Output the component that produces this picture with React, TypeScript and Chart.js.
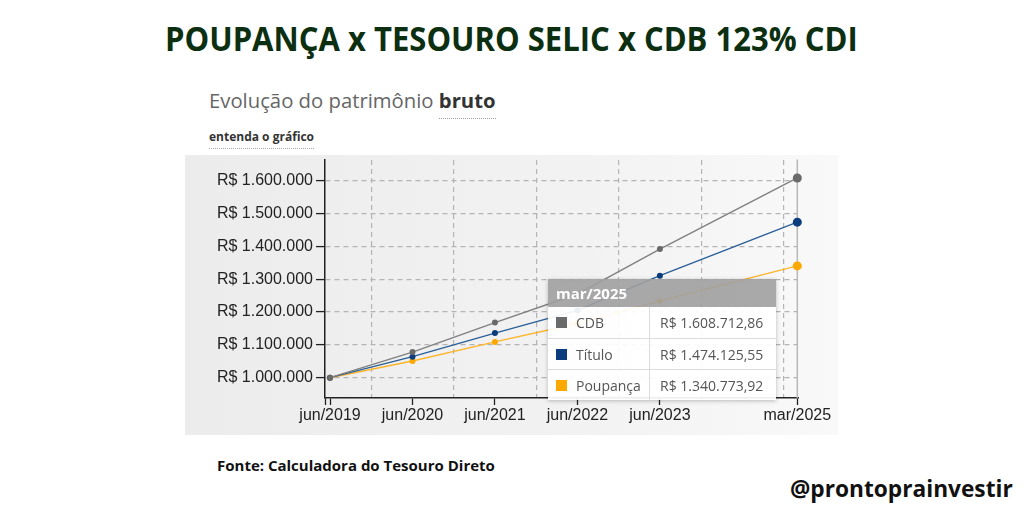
import React, { useEffect, useLayoutEffect, useRef } from "react";
import { Chart, registerables } from "chart.js";

Chart.register(...registerables);

// ---- data ----
const categories = ["jun/2019", "jun/2020", "jun/2021", "jun/2022", "jun/2023", "mar/2025"];
const monthOffsets = [0, 12, 24, 36, 48, 68];
const gridMonths = [6, 18, 30, 42, 54, 66];
const cdbValues = [1000000, 1078000, 1168000, 1255000, 1392000, 1608712.86];
const tituloValues = [1000000, 1064000, 1136000, 1205000, 1311000, 1474125.55];
const poupancaValues = [1000000, 1051000, 1109000, 1165000, 1234000, 1340773.92];
const yTickValues = [1000000, 1100000, 1200000, 1300000, 1400000, 1500000, 1600000];
const seriesNames = ["CDB", "Título", "Poupança"];
const seriesColors = ["#6a6a6a", "#0b3d7d", "#fba800"];
const lineColors = ["#808080", "#2a5f98", "#fdb52a"];

function fmtInt(v: number): string {
  const s = Math.round(v).toString();
  return s.replace(/\B(?=(\d{3})+(?!\d))/g, ".");
}
function fmtMoney(v: number): string {
  const whole = Math.floor(v);
  const cents = Math.round((v - whole) * 100);
  return "R$ " + fmtInt(whole) + "," + String(cents).padStart(2, "0");
}

function FitText(props: { text: string; left: number; top: number; width: number; style: React.CSSProperties }) {
  const ref = useRef<HTMLSpanElement>(null);
  useLayoutEffect(() => {
    const el = ref.current;
    if (!el) return;
    const w = el.offsetWidth;
    if (w > 0) el.style.transform = `scaleX(${props.width / w})`;
  });
  return (
    <span
      ref={ref}
      style={{
        position: "absolute",
        left: props.left,
        top: props.top,
        whiteSpace: "nowrap",
        transformOrigin: "0 0",
        display: "inline-block",
        lineHeight: 1,
        ...props.style,
      }}
    >
      {props.text}
    </span>
  );
}

export default function App() {
  const canvasRef = useRef<HTMLCanvasElement>(null);

  useEffect(() => {
    const canvas = canvasRef.current;
    if (!canvas) return;
    const allSeries = [cdbValues, tituloValues, poupancaValues];
    const lastIdx = monthOffsets.length - 1;
    const hoverLine = {
      id: "hoverLine",
      beforeDatasetsDraw(chart: any) {
        const { ctx, chartArea, scales } = chart;
        const x = scales.x.getPixelForValue(monthOffsets[lastIdx]);
        ctx.save();
        ctx.strokeStyle = "#b8b8b8";
        ctx.lineWidth = 1.5;
        ctx.beginPath();
        ctx.moveTo(x, chartArea.top);
        ctx.lineTo(x, chartArea.bottom);
        ctx.stroke();
        ctx.restore();
      },
    };
    const zeroPad = (axis: any) => {
      axis.paddingTop = 0;
      axis.paddingBottom = 0;
      axis.paddingLeft = 0;
      axis.paddingRight = 0;
    };
    const chart = new Chart(canvas, {
      type: "line",
      data: {
        datasets: allSeries.map((vals, i) => ({
          label: seriesNames[i],
          data: vals.map((v, j) => ({ x: monthOffsets[j], y: v })),
          borderColor: lineColors[i],
          backgroundColor: seriesColors[i],
          pointBackgroundColor: seriesColors[i],
          pointBorderColor: seriesColors[i],
          pointRadius: vals.map((_, j) => (j === lastIdx ? 4.5 : 3)),
          pointBorderWidth: 0,
          borderWidth: 1.4,
          tension: 0,
          clip: false as any,
        })),
      },
      options: {
        animation: false,
        responsive: false,
        maintainAspectRatio: false,
        events: [],
        layout: { padding: { left: 0, right: 40, top: 0, bottom: 0 } },
        plugins: { legend: { display: false }, tooltip: { enabled: false } },
        scales: {
          x: {
            type: "linear",
            position: "bottom",
            min: -0.73,
            max: 68.1,
            afterBuildTicks: (axis: any) => {
              axis.ticks = [{ value: -0.73 }].concat(monthOffsets.map((m) => ({ value: m })));
            },
            afterFit: (axis: any) => {
              axis.height = 38;
              zeroPad(axis);
            },
            ticks: {
              autoSkip: false,
              maxRotation: 0,
              padding: 1,
              color: "#222",
              font: { family: "Liberation Sans", size: 16 },
              callback: (value: any) => {
                const idx = monthOffsets.indexOf(Number(value));
                return idx >= 0 ? categories[idx] : "";
              },
            },
            grid: {
              drawOnChartArea: false,
              drawTicks: true,
              tickLength: 7,
              tickColor: "#222",
              tickWidth: 1.3,
            },
            border: { display: true, color: "#222", width: 1.5 },
          },
          xg: {
            type: "linear",
            position: "top",
            min: -0.73,
            max: 68.1,
            afterBuildTicks: (axis: any) => {
              axis.ticks = gridMonths.map((m) => ({ value: m }));
            },
            afterFit: (axis: any) => {
              axis.height = 0;
              zeroPad(axis);
            },
            ticks: { display: false },
            grid: { drawTicks: false, color: "#b4b4b4", lineWidth: 1.2 },
            border: { display: false, dash: [5, 4] },
          },
          y: {
            type: "linear",
            min: 938100,
            max: 1665000,
            afterBuildTicks: (axis: any) => {
              axis.ticks = yTickValues.map((v) => ({ value: v }));
            },
            afterFit: (axis: any) => {
              axis.width = 140;
              zeroPad(axis);
            },
            ticks: {
              padding: 3,
              color: "#222",
              font: { family: "Liberation Sans", size: 16 },
              callback: (value: any) => "R$ " + fmtInt(Number(value)),
            },
            grid: {
              color: "#b4b4b4",
              lineWidth: 1.2,
              drawTicks: true,
              tickLength: 9,
              tickColor: "#222",
              tickWidth: 1.3,
            },
            border: { display: true, color: "#222", width: 1.5, dash: [5, 4] },
          },
        },
      } as any,
      plugins: [hoverLine],
    });
    return () => chart.destroy();
  }, []);

  const lastIdx = monthOffsets.length - 1;
  const tipValues = [cdbValues[lastIdx], tituloValues[lastIdx], poupancaValues[lastIdx]];

  return (
    <div
      style={{
        position: "fixed",
        left: 0,
        top: 0,
        width: 1024,
        height: 512,
        background: "#ffffff",
        overflow: "hidden",
        fontFamily: "'Open Sans', sans-serif",
      }}
    >
      <FitText
        text="POUPANÇA x TESOURO SELIC x CDB 123% CDI"
        left={165}
        top={22}
        width={693}
        style={{ fontSize: 33.6, fontWeight: 700, color: "#0b2f10", fontFamily: "'Open Sans', sans-serif" }}
      />

      {/* panel */}
      <div
        style={{
          position: "absolute",
          left: 185,
          top: 155,
          width: 653,
          height: 280,
          background: "linear-gradient(to right, #ececec 0%, #f2f2f2 60%, #f9f9f9 100%)",
        }}
      />

      {/* subtitle */}
      <div
        style={{
          position: "absolute",
          left: 209,
          top: 90,
          fontSize: 20.3,
          lineHeight: "20px",
          color: "#666",
          whiteSpace: "nowrap",
        }}
      >
        Evolução do patrimônio{" "}
        <span style={{ fontWeight: 700, color: "#333", borderBottom: "1px dotted #999", paddingBottom: 4 }}>bruto</span>
      </div>
      <div
        style={{
          position: "absolute",
          left: 209,
          top: 131,
          fontSize: 12,
          lineHeight: "12px",
          fontWeight: 700,
          color: "#333",
          whiteSpace: "nowrap",
          borderBottom: "1px dotted #aaa",
          paddingBottom: 5,
        }}
      >
        entenda o gráfico
      </div>

      <canvas
        ref={canvasRef}
        width={653}
        height={281}
        style={{ position: "absolute", left: 185, top: 155, width: 653, height: 281 }}
      />

      {/* tooltip */}
      <div
        style={{
          position: "absolute",
          left: 548,
          top: 279,
          width: 228,
          boxShadow: "0 1px 4px rgba(0,0,0,0.25)",
          fontFamily: "'Open Sans', sans-serif",
        }}
      >
        <div
          style={{
            height: 28,
            lineHeight: "28px",
            background: "rgba(160,160,160,0.9)",
            color: "#fff",
            fontWeight: 700,
            fontSize: 15,
            paddingLeft: 8,
          }}
        >
          {categories[lastIdx]}
        </div>
        {seriesNames.map((name, i) => (
          <div
            key={name}
            style={{
              display: "flex",
              height: 31,
              background: "rgba(255,255,255,0.92)",
              borderTop: i === 0 ? "none" : "1px solid #dcdcdc",
              boxSizing: "border-box",
              fontSize: 14,
              color: "#555",
            }}
          >
            <div
              style={{
                width: 102,
                borderRight: "1px solid #dcdcdc",
                boxSizing: "border-box",
                display: "flex",
                alignItems: "center",
                paddingLeft: 8,
              }}
            >
              <span style={{ width: 11, height: 11, background: seriesColors[i], display: "inline-block", marginRight: 9 }} />
              {name}
            </div>
            <div style={{ display: "flex", alignItems: "center", paddingLeft: 10 }}>{fmtMoney(tipValues[i])}</div>
          </div>
        ))}
      </div>

      <div
        style={{
          position: "absolute",
          left: 217,
          top: 458,
          fontSize: 15,
          lineHeight: "15px",
          fontWeight: 700,
          color: "#111",
          whiteSpace: "nowrap",
        }}
      >
        Fonte: Calculadora do Tesouro Direto
      </div>
      <div
        style={{
          position: "absolute",
          left: 790,
          top: 478,
          fontSize: 22.7,
          lineHeight: "22px",
          fontWeight: 700,
          color: "#111",
          whiteSpace: "nowrap",
        }}
      >
        @prontoprainvestir
      </div>
    </div>
  );
}
